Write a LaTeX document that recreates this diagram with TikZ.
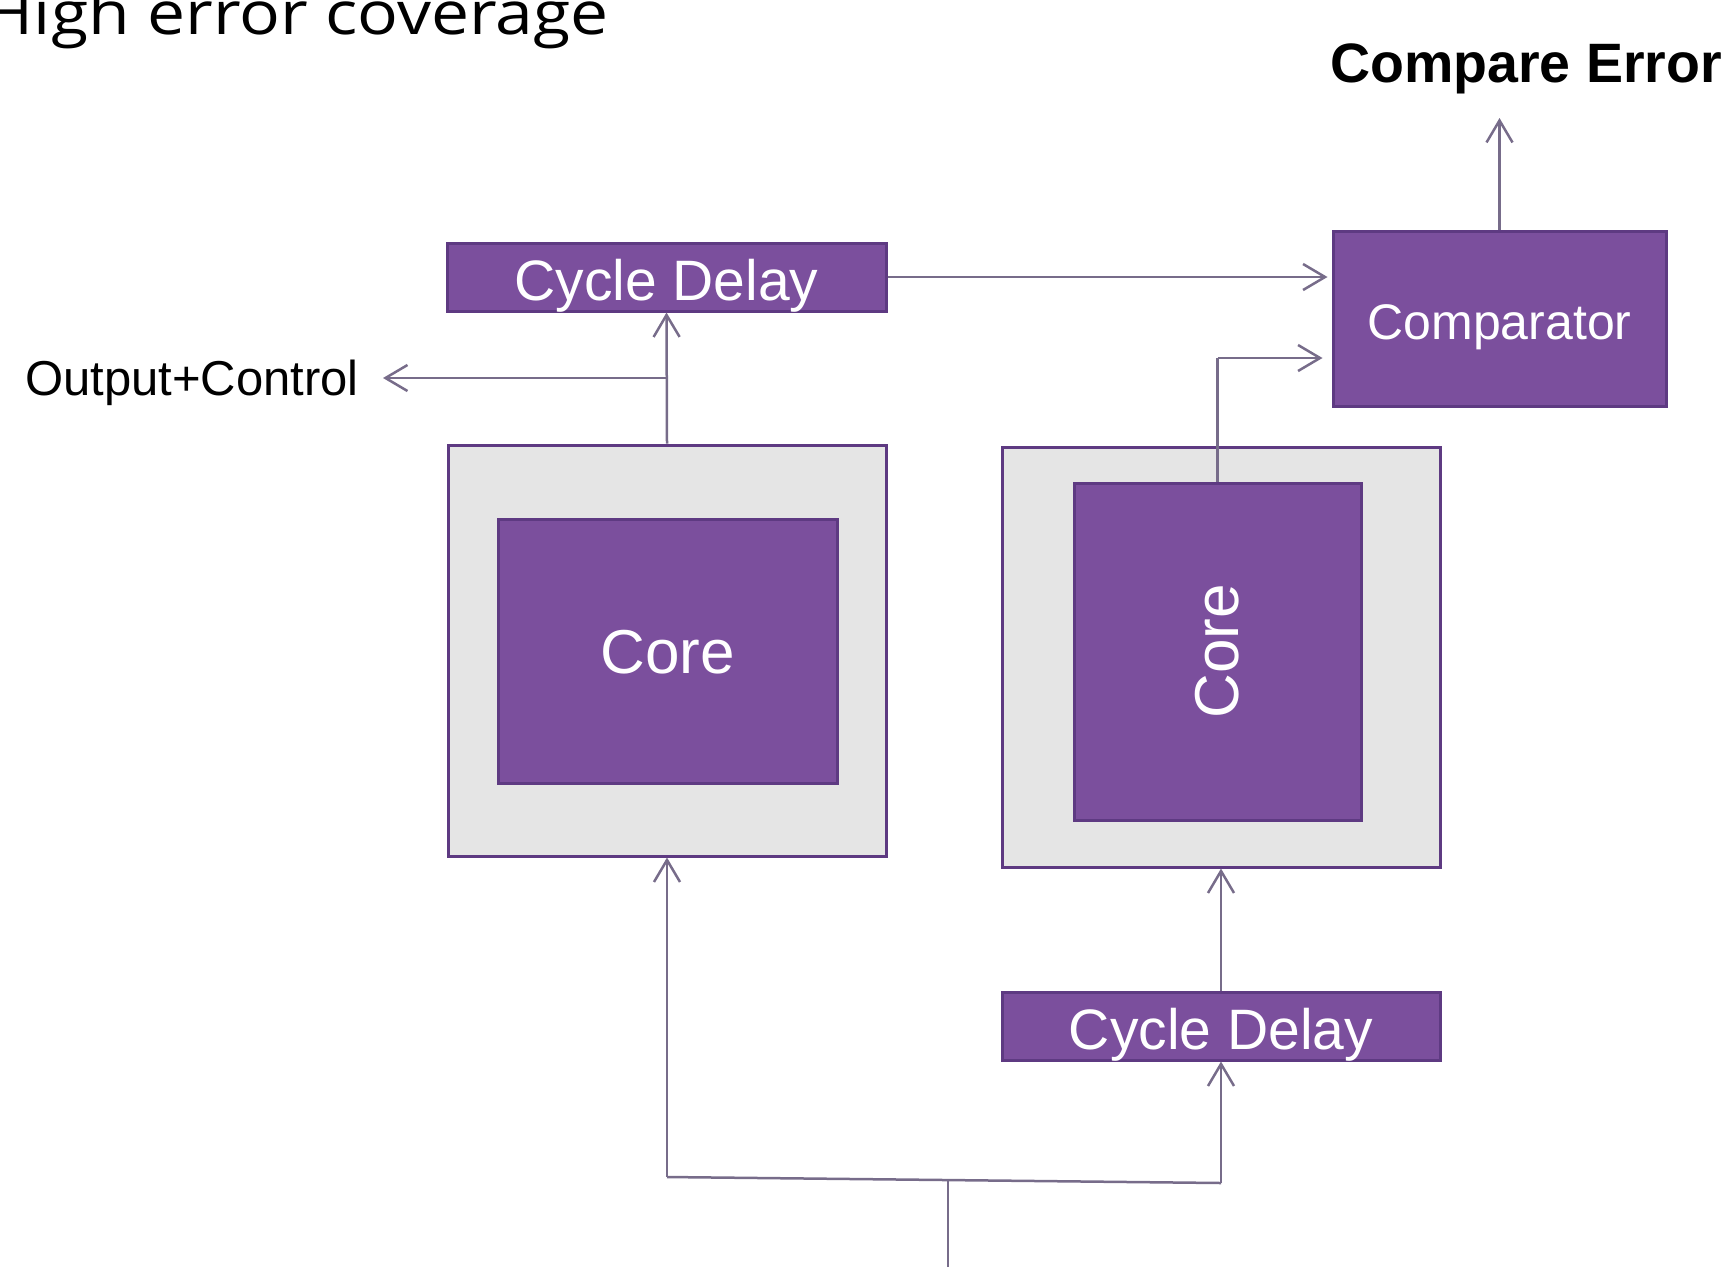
\documentclass[tikz,border=0pt]{standalone}
\usepackage{fontspec}
\setmainfont{Liberation Sans}
\newfontfamily\titlefont{Open Sans}
\usetikzlibrary{arrows.meta}
\definecolor{boxpurple}{HTML}{7B4F9D}
\definecolor{boxedge}{HTML}{5E3A82}
\definecolor{wirecol}{HTML}{776C8A}
\definecolor{shellgray}{HTML}{E5E5E5}
\begin{document}
\begin{tikzpicture}[x=1pt,y=-1pt,
  pbox/.style={draw=boxedge, line width=3pt, fill=boxpurple, text=white, inner sep=0pt,
    font=\fontsize{57}{60}\selectfont, text height=46pt, text depth=0pt},
  shellbox/.style={draw=boxedge, line width=3pt, fill=shellgray, inner sep=0pt},
  wire/.style={draw=wirecol, line width=2.5pt,
    -{Straight Barb[length=22pt,width=26pt,line width=2.5pt]}},
  plainwire/.style={draw=wirecol, line width=2.5pt}]
\useasboundingbox (0,0) rectangle (1736,1267);

% title
\node[anchor=base east, inner sep=0pt, xscale=1.13, font=\titlefont\fontsize{60}{60}\selectfont] (title) at (609,34) {High error coverage};

% boxes
\node[pbox, minimum width=439pt, minimum height=68pt] (cd1) at (666.5,277) {Cycle Delay};
\node[pbox, minimum width=333pt, minimum height=175pt, font=\fontsize{50}{55}\selectfont, text height=41pt] (cmp) at (1499.5,318.5) {Comparator};
\node[shellbox, minimum width=438pt, minimum height=411pt] (lshell) at (667,650.5) {};
\node[pbox, minimum width=339pt, minimum height=264pt, font=\fontsize{62}{66}\selectfont, text height=45pt] (lcore) at (667.5,651) {Core};
\node[shellbox, minimum width=438pt, minimum height=420pt] (rshell) at (1221,657) {};
\node[pbox, minimum width=287pt, minimum height=337pt] (rcore) at (1217.5,651.5) {};
\node[text=white, rotate=90, inner sep=0pt, font=\fontsize{62}{66}\selectfont] (rcoretxt) at (rcore.center) {Core};
\node[pbox, minimum width=438pt, minimum height=68pt] (cd2) at (1221,1026) {Cycle Delay};

% labels
\node[anchor=base east, inner sep=0pt, font=\fontsize{49}{54}\selectfont] (oc) at (359,395) {Output+Control};
\node[anchor=base, inner sep=0pt, font=\bfseries\fontsize{55.5}{60}\selectfont] (ce) at (1526,82) {Compare Error};

% coordinates
\coordinate (j1) at (667,378);
\coordinate (octip) at (383,378);
\coordinate (k) at (1217.5,358);
\coordinate (cetip) at (1499.5,118);
\coordinate (b0) at (948,1267);
\coordinate (b1) at (948,1180);
\coordinate (bl) at (667,1177);
\coordinate (br) at (1221,1183);

% connectors
\draw[wire] (lshell.north) -- (cd1.south);
\draw[wire] (j1) -- (octip);
\draw[wire, shorten >=4pt] (cd1.east) -- (cd1.east -| cmp.west);
\draw[plainwire] (rcore.north) -- (k);
\draw[wire, shorten >=9pt] (k) -- (k -| cmp.west);
\draw[wire] (cmp.north) -- (cetip);
\draw[wire] (cd2.north) -- (rshell.south);
\draw[plainwire] (b0) -- (b1);
\draw[plainwire] (bl) -- (br);
\draw[wire] (bl) -- (lshell.south);
\draw[wire] (br) -- (cd2.south);
\end{tikzpicture}
\end{document}
